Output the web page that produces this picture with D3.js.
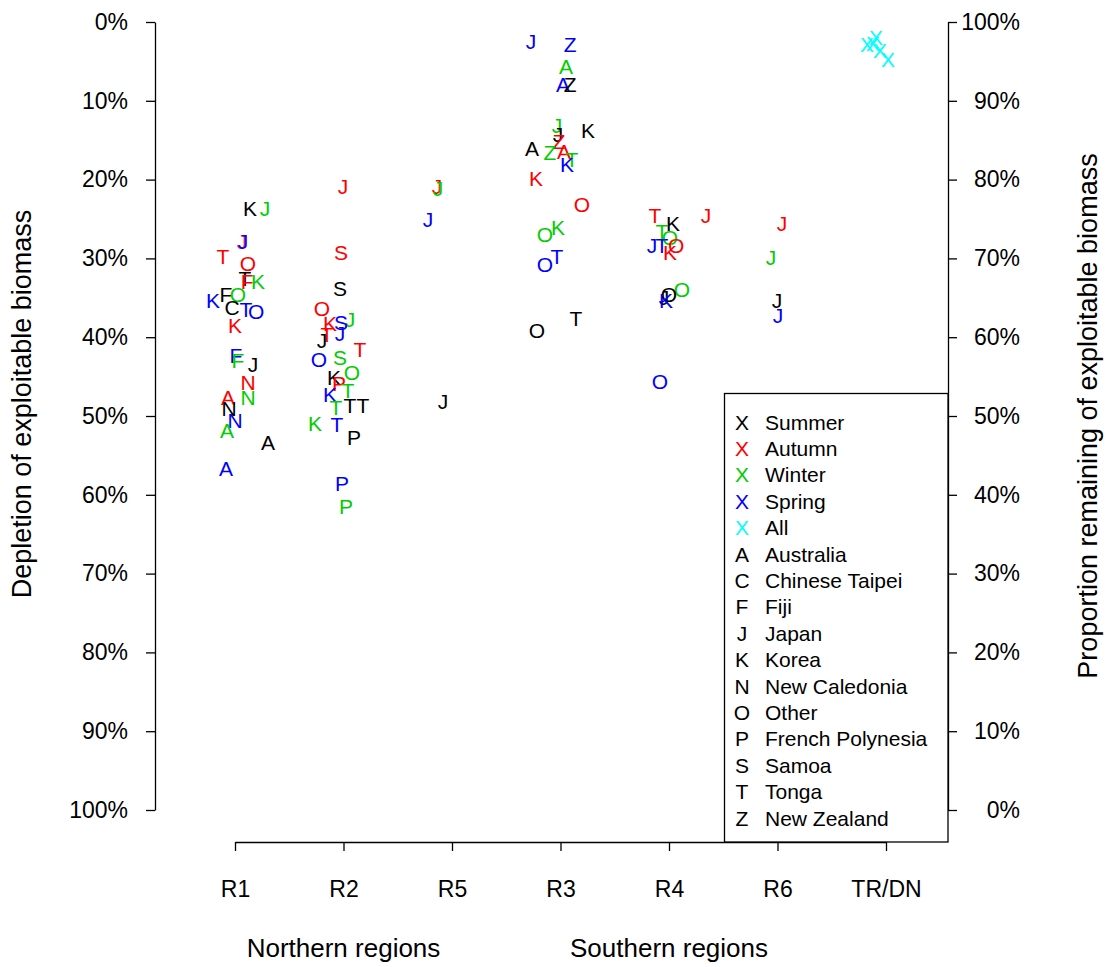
<!DOCTYPE html>
<html><head><meta charset="utf-8">
<script src="https://cdn.jsdelivr.net/npm/d3@7"></script>
<style>body{margin:0;background:#fff}svg{display:block}text{font-family:"Liberation Sans",Arial,sans-serif}</style>
</head><body><svg id="c" width="1108" height="967"></svg>
<script>
const regions = ["R1","R2","R5","R3","R4","R6","TR/DN"];
const seasons = ["Summer","Autumn","Winter","Spring","All"];
const seasonColors = ["#000000","#FF0000","#00CD00","#0000FF","#00FFFF"];
const countryCodes = ["A","C","F","J","K","N","O","P","S","T","Z"];
const countries = ["Australia","Chinese Taipei","Fiji","Japan","Korea","New Caledonia","Other","French Polynesia","Samoa","Tonga","New Zealand"];
const leftTicks = [0,10,20,30,40,50,60,70,80,90,100];
const groupLabels = ["Northern regions","Southern regions"];
const groupPos = [2,5];

// points: letter, season index, x position (region index with jitter), depletion %
const ptLab = ["K","J","J","J","T","O","T","F","K","F","O","K","C","T","O","K","F","F","J","N","A","N","N","N","A","A","A",
 "J","S","S","O","J","K","S","J","T","J","T","O","S","O","K","P","T","K","T","T","T","K","T","P","P","P",
 "J","J","J","J",
 "J","Z","A","A","Z","J","K","J","Z","A","Z","A","T","K","K","O","K","O","T","O","T","O",
 "T","J","K","T","O","J","T","O","K","O","O","J","K","O",
 "J","J","J","J",
 "X","X","X","X","X"];
const ptSeason = [0,2,1,3,1,1,0,1,2,0,2,3,0,3,3,1,3,2,0,1,1,2,0,3,2,0,3,
 1,1,0,1,2,1,3,3,1,0,1,3,2,2,0,1,2,3,2,0,0,2,3,0,3,2,
 1,2,3,0,
 3,3,2,3,0,2,0,0,1,0,2,1,2,3,1,1,2,2,3,3,0,0,
 1,1,0,2,2,3,3,1,1,2,0,0,3,3,
 1,2,0,3,
 4,4,4,4,4];
const ptX = [1.138,1.276,1.065,1.074,0.889,1.120,1.092,1.111,1.212,0.917,1.028,0.797,0.972,1.101,1.194,1.0,1.009,1.028,1.166,1.120,0.935,1.120,0.945,1.0,0.926,1.304,0.917,
 1.995,1.977,1.968,1.802,2.060,1.876,1.977,1.968,1.848,1.802,2.152,1.774,1.968,2.078,1.912,1.959,2.041,1.876,1.931,2.060,2.180,1.737,1.940,2.097,1.986,2.023,
 2.862,2.871,2.779,2.917,
 3.728,4.088,4.051,4.023,4.088,3.968,4.253,3.977,3.986,3.737,3.903,4.032,4.106,4.060,3.774,4.198,3.977,3.857,3.968,3.857,4.143,3.783,
 4.871,5.341,5.037,4.935,5.009,4.843,4.935,5.065,5.009,5.120,5.0,4.954,4.972,4.917,
 6.041,5.94,5.995,6.005,
 6.825,6.908,6.88,6.945,7.018];
const ptY = [23.6,23.6,27.8,27.9,29.8,30.7,32.5,32.9,32.9,34.6,34.6,35.3,36.2,36.5,36.7,38.5,42.3,42.9,43.5,45.8,47.7,47.7,49.0,50.5,51.8,53.4,56.7,
 20.9,29.3,33.8,36.3,37.8,38.2,38.1,39.5,39.6,40.4,41.6,42.8,42.6,44.5,45.1,45.9,46.7,47.3,48.9,48.6,48.6,51.0,51.1,52.7,58.6,61.5,
 20.9,21.1,25.0,48.1,
 2.5,2.8,5.6,7.9,7.9,13.1,13.8,14.3,15.2,16.1,16.5,16.4,17.5,18.1,19.9,23.2,26.1,27.0,29.7,30.8,37.6,39.2,
 24.6,24.6,25.6,26.6,27.4,28.4,28.4,28.3,29.3,34.0,34.6,34.9,35.3,45.6,
 25.5,29.9,35.3,37.2,
 2.9,1.9,2.7,3.6,4.7];

const svg = d3.select("#c");
const x = d3.scaleLinear().domain([1,7]).range([235,886]);
const y = d3.scaleLinear().domain([0,100]).range([22,810]);
const yR = d3.scaleLinear().domain([100,0]).range([22,810]);
const plotL = 155, plotR = 948, plotB = 842;
const fs = 23;

// left axis
const gl = svg.append("g").attr("transform",`translate(${plotL},0)`)
  .call(d3.axisLeft(y).tickValues(leftTicks).tickFormat(d=>d+"%").tickSize(9).tickPadding(18).tickSizeOuter(0));
gl.selectAll("text").attr("font-size",fs).attr("fill","#000");
// right axis
const gr = svg.append("g").attr("transform",`translate(${plotR},0)`)
  .call(d3.axisRight(yR).tickValues(leftTicks).tickFormat(d=>d+"%").tickSize(9).tickPadding(18).tickSizeOuter(0));
gr.selectAll("text").attr("font-size",fs).attr("fill","#000").attr("text-anchor","end").attr("x",72);
// bottom axis
const gb = svg.append("g").attr("transform",`translate(0,${plotB})`)
  .call(d3.axisBottom(x).tickValues(d3.range(1,8)).tickFormat((d,i)=>regions[i]).tickSize(9).tickPadding(30).tickSizeOuter(0));
gb.selectAll("text").attr("font-size",fs).attr("fill","#000");
svg.selectAll(".domain, .tick line").attr("stroke","#000").attr("stroke-width",1.3);

// group labels
svg.selectAll(".grp").data(groupLabels).join("text").attr("class","grp")
  .attr("x",(d,i)=>x(groupPos[i])).attr("y",948).attr("dy","0.35em")
  .attr("text-anchor","middle").attr("font-size",26).text(d=>d);

// axis titles
svg.append("text").attr("transform","translate(22,404) rotate(-90)").attr("text-anchor","middle")
  .attr("dy","0.35em").attr("font-size",27).text("Depletion of exploitable biomass");
svg.append("text").attr("transform","translate(1088,416) rotate(-90)").attr("text-anchor","middle")
  .attr("dy","0.35em").attr("font-size",27).text("Proportion remaining of exploitable biomass");

// points
svg.append("g").selectAll("text").data(ptLab).join("text")
  .attr("x",(d,i)=>x(ptX[i])).attr("y",(d,i)=>y(ptY[i])).attr("dy","0.36em")
  .attr("text-anchor","middle").attr("font-size",21)
  .attr("fill",(d,i)=>seasonColors[ptSeason[i]]).text(d=>d);

// legend
const lg = svg.append("g");
lg.append("rect").attr("x",724.5).attr("y",393.5).attr("width",plotR-724.5).attr("height",plotB-393.5)
  .attr("fill","#fff").attr("stroke","#000").attr("stroke-width",1.3);
const legItems = seasons.map((s,i)=>({sym:"X",col:seasonColors[i],lab:s}))
  .concat(countries.map((c,i)=>({sym:countryCodes[i],col:"#000",lab:c})));
const legY = d3.scaleLinear().domain([0,15]).range([422,818]);
legItems.forEach((d,i)=>{
  lg.append("text").attr("x",742).attr("y",legY(i)).attr("dy","0.36em").attr("text-anchor","middle")
    .attr("font-size",21).attr("fill",d.col).text(d.sym);
  lg.append("text").attr("x",765).attr("y",legY(i)).attr("dy","0.36em")
    .attr("font-size",21).attr("fill","#000").text(d.lab);
});
</script></body></html>
